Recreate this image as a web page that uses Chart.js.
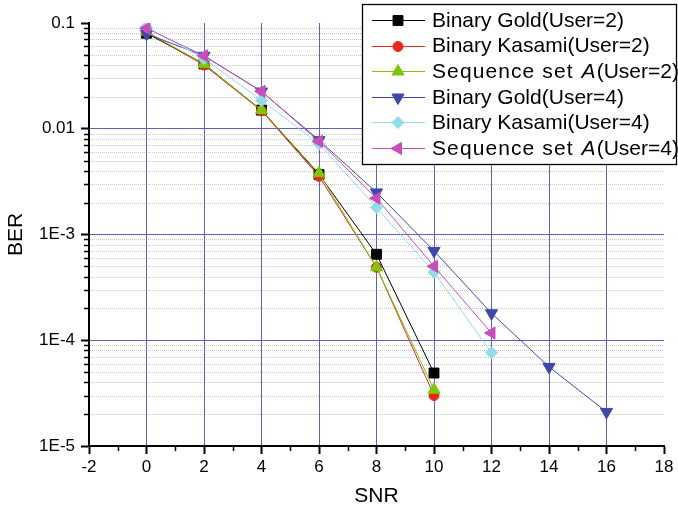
<!DOCTYPE html>
<html><head><meta charset="utf-8">
<script src="https://cdn.jsdelivr.net/npm/chart.js@4.4.0/dist/chart.umd.min.js"></script>
<style>html,body{margin:0;padding:0;background:#fff;}</style>
</head><body>
<canvas id="c" width="678" height="513" style="width:678px;height:513px;display:block"></canvas>
<script>
// ---- data ----
const snr = [0, 2, 4, 6, 8, 10, 12, 14, 16];
const seriesLabels = [
  'Binary Gold(User=2)', 'Binary Kasami(User=2)', 'Sequence set A(User=2)',
  'Binary Gold(User=4)', 'Binary Kasami(User=4)', 'Sequence set A(User=4)'
];
const goldU2   = [0.080, 0.041, 0.0150, 0.0037, 0.00065, 4.9e-5];
const kasamiU2 = [0.082, 0.040, 0.0148, 0.00355, 0.00049, 3.0e-5];
const seqAU2   = [0.083, 0.041, 0.0150, 0.0038, 0.00049, 3.4e-5];
const goldU4   = [0.079, 0.049, 0.0225, 0.0078, 0.0025, 0.00070, 0.00018, 5.6e-5, 2.1e-5];
const kasamiU4 = [0.092, 0.046, 0.0186, 0.0072, 0.0018, 0.00044, 7.6e-5];
const seqAU4   = [0.089, 0.049, 0.0226, 0.0076, 0.0022, 0.00050, 0.000117];
const xTickValues = [-2, 0, 2, 4, 6, 8, 10, 12, 14, 16, 18];
const xMinorTicks = [-1, 1, 3, 5, 7, 9, 11, 13, 15, 17];
const yTickValues = [1e-5, 1e-4, 1e-3, 0.01, 0.1];
const yTickLabels = ['1E-5', '1E-4', '1E-3', '0.01', '0.1'];

// ---- styles ----
const FONT = '"Liberation Sans", Arial, sans-serif';
const GRID_BLUE = '#5c63b8';
const allSeries = [goldU2, kasamiU2, seqAU2, goldU4, kasamiU4, seqAU4];
const colors = ['#000000', '#e5291c', '#7dc60a', '#3e48a8', '#92dcea', '#c74eb9'];
const styles = [
  {pointStyle: 'rect', radius: 7, rotation: 0},
  {pointStyle: 'circle', radius: 5, rotation: 0},
  {pointStyle: 'triangle', radius: 7, rotation: 0},
  {pointStyle: 'triangle', radius: 7, rotation: 180},
  {pointStyle: 'rectRot', radius: 6, rotation: 0},
  {pointStyle: 'triangle', radius: 7, rotation: 270}
];

const datasets = allSeries.map((vals, i) => ({
  label: seriesLabels[i],
  data: vals.map((v, j) => ({x: snr[j], y: v})),
  borderColor: colors[i],
  backgroundColor: colors[i],
  borderWidth: 1,
  pointStyle: styles[i].pointStyle,
  pointRadius: styles[i].radius,
  pointRotation: styles[i].rotation,
  pointBorderWidth: 1,
  pointBorderColor: colors[i],
  pointBackgroundColor: colors[i],
  tension: 0,
  fill: false,
  order: allSeries.length - i
}));

function drawMarker(ctx, st, color, x, y) {
  if (Chart.helpers && Chart.helpers.drawPoint) {
    ctx.save();
    ctx.fillStyle = color; ctx.strokeStyle = color; ctx.lineWidth = 1;
    Chart.helpers.drawPoint(ctx, {pointStyle: st.pointStyle, radius: st.radius, rotation: st.rotation, borderWidth: 1}, x, y);
    ctx.restore();
  }
}

const minorPlugin = {
  id: 'minorGrid',
  beforeDraw(chart) {
    const {ctx, chartArea, scales} = chart;
    const ys = scales.y, xs = scales.x;
    ctx.save();
    for (let e = -5; e < -1; e++) {
      for (let m = 2; m <= 9; m++) {
        const v = m * Math.pow(10, e);
        const py = Math.round(ys.getPixelForValue(v)) + 0.5;
        ctx.setLineDash([1, 1]);
        ctx.strokeStyle = '#c6c6c6';
        ctx.lineWidth = 1;
        ctx.beginPath(); ctx.moveTo(chartArea.left + 1, py); ctx.lineTo(chartArea.right, py); ctx.stroke();
        ctx.setLineDash([]);
        ctx.strokeStyle = '#000';
        ctx.lineWidth = 1.5;
        ctx.beginPath(); ctx.moveTo(chartArea.left - 5, py); ctx.lineTo(chartArea.left, py); ctx.stroke();
      }
    }
    ctx.strokeStyle = '#000';
    ctx.lineWidth = 1.5;
    xMinorTicks.forEach(v => {
      const px = Math.round(xs.getPixelForValue(v)) + 0.5;
      ctx.beginPath(); ctx.moveTo(px, chartArea.bottom); ctx.lineTo(px, chartArea.bottom + 5); ctx.stroke();
    });
    ctx.restore();
  }
};

const legendPlugin = {
  id: 'boxLegend',
  afterDraw(chart) {
    const ctx = chart.ctx;
    const bx = 362.5, by = 4.5, bw = 314, bh = 160;
    ctx.save();
    ctx.fillStyle = '#fff';
    ctx.fillRect(bx, by, bw, bh);
    ctx.strokeStyle = '#000';
    ctx.lineWidth = 1.3;
    ctx.strokeRect(bx, by, bw, bh);
    const rowY0 = 20, rowStep = 25.6;
    chart.data.datasets.forEach((ds, i) => {
      const y = rowY0 + i * rowStep;
      ctx.strokeStyle = colors[i];
      ctx.lineWidth = 1;
      ctx.beginPath(); ctx.moveTo(372, Math.round(y) + 0.5); ctx.lineTo(425, Math.round(y) + 0.5); ctx.stroke();
      drawMarker(ctx, styles[i], colors[i], 398, Math.round(y) + 0.5);
      ctx.fillStyle = '#000';
      ctx.textBaseline = 'middle';
      ctx.textAlign = 'left';
      const label = ds.label;
      const k = label.indexOf(' A(');
      let x = 432;
      if (k >= 0) {
        const p1 = label.slice(0, k + 1), p2 = 'A', p3 = label.slice(k + 2);
        ctx.font = '21px ' + FONT;
        if ('letterSpacing' in ctx) ctx.letterSpacing = '1.1px';
        ctx.fillText(p1, x, y + 1); x += ctx.measureText(p1).width;
        ctx.font = 'italic 21px ' + FONT;
        ctx.fillText(p2, x + 1, y + 1); x += ctx.measureText(p2).width + 1;
        if ('letterSpacing' in ctx) ctx.letterSpacing = '0px';
        ctx.font = '21px ' + FONT; ctx.fillText(p3, x, y + 1);
      } else {
        ctx.font = '21px ' + FONT; ctx.fillText(label, x, y + 1);
      }
    });
    ctx.restore();
  }
};

new Chart(document.getElementById('c'), {
  type: 'line',
  data: {datasets},
  plugins: [minorPlugin, legendPlugin],
  options: {
    responsive: false,
    animation: false,
    layout: {padding: {top: 23, right: 14, left: 0, bottom: 0}},
    plugins: {legend: {display: false}, tooltip: {enabled: false}},
    scales: {
      x: {
        type: 'linear', min: -2, max: 18,
        afterBuildTicks: s => { s.ticks = xTickValues.map(v => ({value: v})); },
        afterFit: s => { s.height = 67; },
        ticks: {font: {family: FONT, size: 17}, color: '#000', padding: 3, maxRotation: 0, autoSkip: false,
                callback: v => String(v)},
        grid: {
          color: c => (c.tick && (c.tick.value === -2 || c.tick.value === 18)) ? 'rgba(0,0,0,0)' : GRID_BLUE,
          tickColor: '#000', tickLength: 8, lineWidth: 1, tickWidth: 2
        },
        border: {color: '#000', width: 2},
        title: {display: true, text: 'SNR', font: {family: FONT, size: 21}, color: '#000', padding: {top: 0, bottom: 4}}
      },
      y: {
        type: 'logarithmic', min: 1e-5, max: 0.1,
        afterBuildTicks: s => { s.ticks = yTickValues.map(v => ({value: v})); },
        afterFit: s => { s.width = 89; },
        ticks: {font: {family: FONT, size: 17}, color: '#000', padding: 6, autoSkip: false,
                callback: (v, i) => yTickLabels[i]},
        grid: {
          color: c => (c.tick && c.tick.value >= 0.09) ? 'rgba(0,0,0,0)' : GRID_BLUE,
          tickColor: '#000', tickLength: 8, lineWidth: 1, tickWidth: 2
        },
        border: {color: '#000', width: 2},
        title: {display: true, text: 'BER', font: {family: FONT, size: 21}, color: '#000', padding: {top: 4, bottom: 0}}
      }
    }
  }
});
</script>
</body></html>
